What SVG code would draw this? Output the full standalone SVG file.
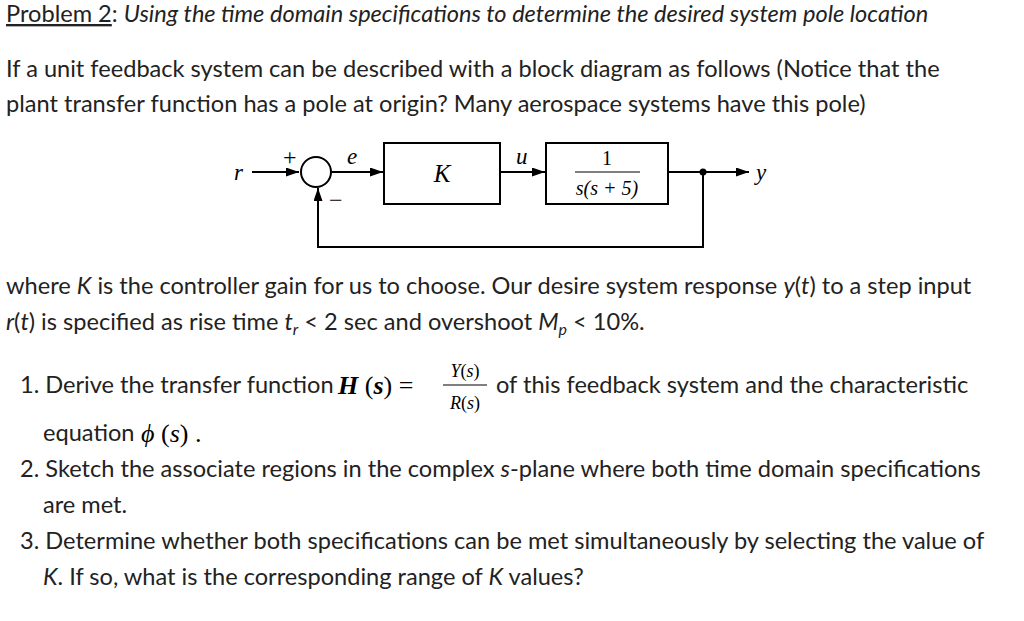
<svg xmlns="http://www.w3.org/2000/svg" width="1024" height="621" viewBox="0 0 1024 621">
<style>
.t{font-family:Lato,"Open Sans",sans-serif;font-size:23.6px;fill:#222}
.m{font-family:"Liberation Serif",serif;font-style:italic;fill:#000}
.n{font-family:"Liberation Serif",serif;fill:#000}
.b{fill:#fff;stroke:#000;stroke-width:2}
.c{fill:none;stroke:#000;stroke-width:2}
</style>
<defs><marker id="a" viewBox="0 0 10 10" refX="10" refY="5" markerWidth="13" markerHeight="9" markerUnits="userSpaceOnUse" orient="auto" preserveAspectRatio="none"><path d="M0,0L10,5L0,10z" fill="#000"/></marker></defs>
<rect width="1024" height="621" fill="#fff"/>
<text class="t" x="6" y="22"><tspan text-decoration="underline">Problem 2</tspan>: <tspan font-style="italic">Using the time domain specifications to determine the desired system pole location</tspan></text>
<text class="t" x="6" y="77">If a unit feedback system can be described with a block diagram as follows (Notice that the</text>
<text class="t" x="6" y="112">plant transfer function has a pole at origin?  Many aerospace systems have this pole)</text>
<g id="connectors">
<path class="c" d="M252,172H299" marker-end="url(#a)"/>
<path class="c" d="M331,172H383" marker-end="url(#a)"/>
<path class="c" d="M500,172H545" marker-end="url(#a)"/>
<path class="c" d="M668,172H749" marker-end="url(#a)"/>
<path class="c" d="M703,172V247H318V188" marker-end="url(#a)"/>
<circle cx="703" cy="172" r="3.5" fill="#000"/>
</g>
<g id="sum"><circle class="b" cx="316" cy="172" r="15"/>
<text class="n" x="283" y="165" font-size="24">+</text><text class="n" x="329" y="208" font-size="24">−</text></g>
<g id="K"><rect class="b" x="384" y="143" width="116" height="61"/><text class="m" x="442" y="182" font-size="25" text-anchor="middle">K</text></g>
<g id="plant"><rect class="b" x="546" y="143" width="122" height="61"/>
<text class="n" x="607" y="165" font-size="20" text-anchor="middle">1</text>
<line x1="575" y1="172" x2="640" y2="172" stroke="#000" stroke-width="1.2"/>
<text class="m" x="607" y="195" font-size="20" text-anchor="middle">s(s + 5)</text></g>
<text class="m" x="234" y="180" font-size="23">r</text>
<text class="m" x="347" y="164" font-size="23">e</text>
<text class="m" x="516" y="164" font-size="23">u</text>
<text class="m" x="756" y="180" font-size="23">y</text>
<text class="t" x="6" y="294">where <tspan font-style="italic">K</tspan> is the controller gain for us to choose.  Our desire system response <tspan font-style="italic">y</tspan>(<tspan font-style="italic">t</tspan>) to a step input</text>
<text class="t" x="6" y="330"><tspan font-style="italic">r</tspan>(<tspan font-style="italic">t</tspan>) is specified as rise time <tspan font-style="italic">t</tspan><tspan font-size="16" dy="5" font-style="italic">r</tspan><tspan dy="-5"> &lt; 2 sec and overshoot </tspan><tspan font-style="italic">M</tspan><tspan font-size="16" dy="5" font-style="italic">p</tspan><tspan dy="-5"> &lt; 10%.</tspan></text>
<text class="t" x="20" y="393">1. Derive the transfer function</text>
<text class="m" x="338" y="394" font-size="26" font-weight="bold">H<tspan font-style="normal" font-weight="normal"> (</tspan>s<tspan font-style="normal" font-weight="normal">) =</tspan></text>
<text class="m" x="465" y="377" font-size="18" text-anchor="middle">Y<tspan font-style="normal">(</tspan>s<tspan font-style="normal">)</tspan></text>
<line x1="443" y1="385" x2="487" y2="385" stroke="#000" stroke-width="1.2"/>
<text class="m" x="465" y="409" font-size="18" text-anchor="middle">R<tspan font-style="normal">(</tspan>s<tspan font-style="normal">)</tspan></text>
<text class="t" x="496" y="393">of this feedback system and the characteristic</text>
<text class="t" x="43" y="441">equation</text>
<text class="m" x="141" y="442" font-size="26">ϕ<tspan font-style="normal"> (</tspan>s<tspan font-style="normal">) .</tspan></text>
<text class="t" x="20" y="477">2. Sketch the associate regions in the complex <tspan font-style="italic">s</tspan>-plane where both time domain specifications</text>
<text class="t" x="43" y="513">are met.</text>
<text class="t" x="20" y="549">3. Determine whether both specifications can be met simultaneously by selecting the value of</text>
<text class="t" x="43" y="585"><tspan font-style="italic">K</tspan>. If so, what is the corresponding range of <tspan font-style="italic">K</tspan> values?</text>
</svg>
